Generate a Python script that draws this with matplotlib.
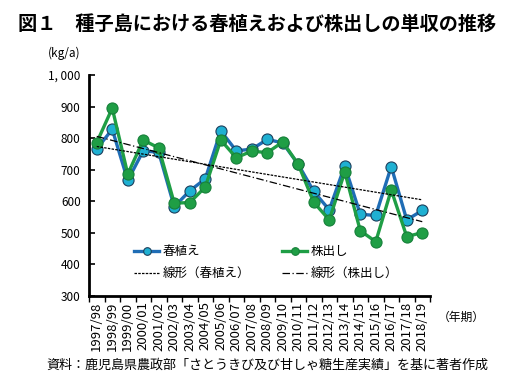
import matplotlib.pyplot as plt
import numpy as np
from matplotlib.lines import Line2D

plt.rcParams['font.family'] = ['Noto Sans CJK JP', 'DejaVu Sans']

seasons = ["1997/98", "1998/99", "1999/00", "2000/01", "2001/02", "2002/03",
           "2003/04", "2004/05", "2005/06", "2006/07", "2007/08", "2008/09",
           "2009/10", "2010/11", "2011/12", "2012/13", "2013/14", "2014/15",
           "2015/16", "2016/17", "2017/18", "2018/19"]
spring = [766, 828, 666, 760, 755, 583, 633, 671, 823, 760, 765, 796,
          785, 717, 631, 573, 712, 559, 555, 710, 541, 571]
ratoon = [786, 895, 686, 794, 769, 594, 596, 645, 794, 738, 759, 754,
          788, 717, 597, 541, 693, 507, 472, 636, 488, 501]
yticks = [300, 400, 500, 600, 700, 800, 900, 1000]
ytick_labels = ["300", "400", "500", "600", "700", "800", "900", "1, 000"]

blue_line = "#1f6db5"
blue_face = "#1fb0d2"
green = "#1f9e45"

fig = plt.figure(figsize=(5.2, 3.82), dpi=100)
ax = fig.add_axes([89 / 520, 1 - 296 / 382, 341 / 520, 221 / 382])

x = np.arange(len(seasons))
ax.plot(x, spring, color=blue_line, lw=2.4, marker="o", ms=8,
        mfc=blue_face, mec="#1d3f5c", mew=0.8, zorder=3)
ax.plot(x, ratoon, color=green, lw=2.4, marker="o", ms=8,
        mfc=green, mec="#17803a", mew=0.8, zorder=4)

# linear trend lines
p1 = np.polyfit(x, spring, 1)
p2 = np.polyfit(x, ratoon, 1)
ax.plot(x, np.polyval(p1, x), color="black", lw=0.9, ls=(0, (2, 1)), zorder=5)
ax.plot(x, np.polyval(p2, x), color="black", lw=0.9, ls=(0, (6, 2, 1, 2)), zorder=5)

ax.set_xlim(-0.5, len(seasons) - 0.5)
ax.set_ylim(300, 1000)
ax.set_yticks(yticks)
ax.set_yticklabels(ytick_labels, fontsize=8.5)
ax.tick_params(axis="y", direction="in", length=4, width=1.2, pad=6)
ax.set_xticks(x)
ax.set_xticklabels(seasons, rotation=90, fontsize=9.5)
ax.tick_params(axis="x", length=0, pad=4)
ax.set_xticks(np.arange(-0.5, len(seasons), 1), minor=True)
ax.tick_params(axis="x", which="minor", direction="out", length=4, width=1)
for s in ["top", "right"]:
    ax.spines[s].set_visible(False)
for s in ["left", "bottom"]:
    ax.spines[s].set_linewidth(2)

handles = [
    Line2D([], [], color=blue_line, lw=2.4, marker="o", ms=5.5, mfc=blue_face, mec="#1d3f5c", mew=0.8),
    Line2D([], [], color="black", lw=0.9, ls=(0, (2, 1))),
    Line2D([], [], color=green, lw=2.4, marker="o", ms=5.5, mfc=green, mec="#17803a", mew=0.8),
    Line2D([], [], color="black", lw=0.9, ls=(0, (6, 2, 1, 2))),
]
labels = ["春植え", "線形（春植え）", "株出し", "線形（株出し）"]
ax.legend(handles, labels, ncol=2, frameon=False, fontsize=9,
          loc="lower left", bbox_to_anchor=(0.1, 0.02), handlelength=2.0,
          handletextpad=0.25, columnspacing=2.6, labelspacing=0.75)

fig.text(0.035, 1 - 24 / 382, "図１　種子島における春植えおよび株出しの単収の推移",
         fontsize=13.8, fontweight="bold", va="center", ha="left")
fig.text(48 / 520, 1 - 53 / 382, "(kg/a)", fontsize=8.5, va="center", ha="left")
fig.text(438 / 520, 1 - 317 / 382, "（年期）", fontsize=8.5, va="center", ha="left")
fig.text(46 / 520, 1 - 365 / 382,
         "資料：鹿児島県農政部「さとうきび及び甘しゃ糖生産実績」を基に著者作成",
         fontsize=9.4, va="center", ha="left")

fig.savefig("out.png", dpi=100)
